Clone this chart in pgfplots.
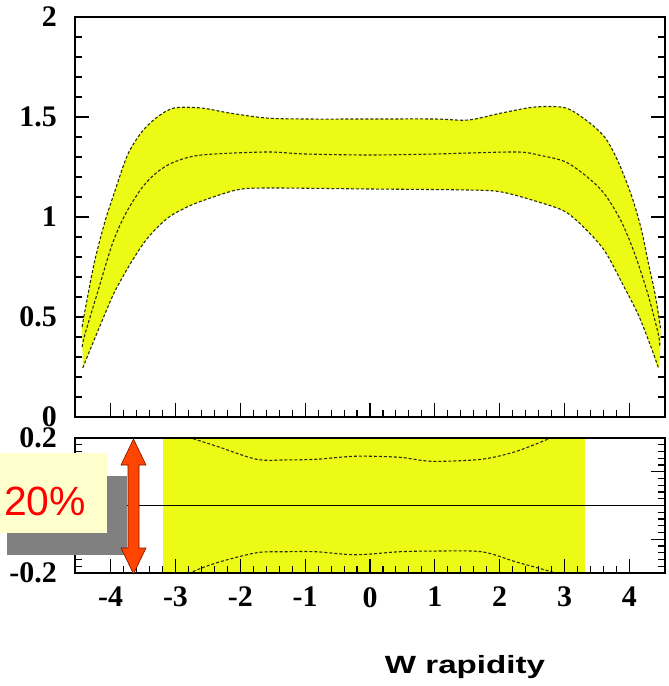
\documentclass[border=0pt]{standalone}
\usepackage{pgfplots}
\pgfplotsset{compat=1.18}
\usepackage{graphicx}
\usepackage{fontspec}
\setmainfont{Liberation Serif}
\newfontfamily\arialfont{Liberation Sans}
\definecolor{bandyellow}{RGB}{236,250,22}
\definecolor{curvecol}{RGB}{40,45,10}
\definecolor{creambox}{RGB}{255,255,206}
\definecolor{shadowgray}{RGB}{128,128,128}
\definecolor{arrowred}{RGB}{255,69,0}
\definecolor{arrowedge}{RGB}{120,20,0}
\begin{document}
\begin{tikzpicture}
\path[use as bounding box] (0bp,0bp) rectangle (669bp,-686bp);
\pgfplotsset{
  mystyle/.style={
    scale only axis, width=590bp,
    xmin=-4.55, xmax=4.55,
    axis line style={line width=1.6pt},
    /pgf/number format/assume math mode=true,
    ticklabel style={font=\fontsize{30}{30}\selectfont\bfseries},
    tick style={line width=1.1pt, black},
    major tick length=14bp, minor tick length=7bp,
    xtick={-4,-3,-2,-1,0,1,2,3,4},
    minor x tick num=4,
    xtick pos=bottom,
    clip=true,
  }
}
% top panel
\begin{axis}[mystyle, name=toppanel, at={(75bp,-17bp)}, anchor=north west,
  height=400bp, ymin=0, ymax=2,
  ytick={0,0.5,1,1.5,2}, yticklabels={0,0.5,1,1.5,2},
  minor y tick num=4,
  xticklabels={},
  yticklabel style={inner sep=0pt, xshift=-18bp},
]
\addplot[fill=bandyellow, draw=none, smooth] coordinates {
(-4.44,0.45) (-4.4,0.525) (-4.25,0.775) (-4.09,0.975) (-3.94,1.125) (-3.74,1.31)
(-3.52,1.425) (-3.28,1.50) (-3.02,1.545) (-2.6,1.545) (-2.17,1.52) (-1.6,1.495)
(-1,1.49) (0,1.49) (1,1.49) (1.52,1.485) (2.03,1.52) (2.55,1.55) (3.02,1.545)
(3.37,1.475) (3.63,1.395) (3.83,1.275) (4.03,1.11) (4.18,0.945) (4.29,0.775)
(4.4,0.61) (4.48,0.445)
(4.45,0.245) (4.34,0.345) (4.14,0.51) (3.88,0.675) (3.63,0.825) (3.37,0.925)
(3.02,1.025) (2.6,1.075) (2.03,1.125) (1.52,1.135) (0,1.14) (-1.6,1.145)
(-2.06,1.135) (-2.55,1.085) (-2.82,1.05) (-3.12,0.995) (-3.43,0.895)
(-3.68,0.775) (-3.94,0.625) (-4.14,0.475) (-4.35,0.31) (-4.43,0.245)
} -- cycle;
\addplot[curvecol, densely dashed, line width=1.1pt, smooth] coordinates {
(-4.44,0.45) (-4.4,0.525) (-4.25,0.775) (-4.09,0.975) (-3.94,1.125) (-3.74,1.31)
(-3.52,1.425) (-3.28,1.50) (-3.02,1.545) (-2.6,1.545) (-2.17,1.52) (-1.6,1.495)
(-1,1.49) (0,1.49) (1,1.49) (1.52,1.485) (2.03,1.52) (2.55,1.55) (3.02,1.545)
(3.37,1.475) (3.63,1.395) (3.83,1.275) (4.03,1.11) (4.18,0.945) (4.29,0.775)
(4.4,0.61) (4.48,0.445)
};
\addplot[curvecol, densely dashed, line width=1.1pt, smooth] coordinates {
(-4.44,0.35) (-4.4,0.41) (-4.2,0.625) (-3.98,0.86) (-3.78,1.01) (-3.52,1.145)
(-3.28,1.225) (-3.02,1.275) (-2.6,1.31) (-1.6,1.325) (-1,1.315) (0,1.31)
(1,1.315) (1.52,1.32) (2.29,1.325) (2.6,1.31) (3.02,1.275) (3.37,1.195)
(3.63,1.11) (3.88,0.975) (4.09,0.81) (4.29,0.61) (4.45,0.41) (4.47,0.35)
};
\addplot[curvecol, densely dashed, line width=1.1pt, smooth] coordinates {
(-4.43,0.245) (-4.35,0.31) (-4.14,0.475) (-3.94,0.625) (-3.68,0.775)
(-3.43,0.895) (-3.12,0.995) (-2.82,1.05) (-2.55,1.085) (-2.06,1.135)
(-1.6,1.145) (0,1.14) (1.52,1.135) (2.03,1.125) (2.6,1.075) (3.02,1.025)
(3.37,0.925) (3.63,0.825) (3.88,0.675) (4.14,0.51) (4.34,0.345) (4.45,0.245)
};
\end{axis}
% bottom panel
\begin{axis}[mystyle, name=botpanel, at={(75bp,-438bp)}, anchor=north west,
  height=135bp, ymin=-0.2, ymax=0.2,
  ytick={-0.2,-0.1,0,0.1,0.2}, yticklabels={-0.2,,0,,0.2},
  minor y tick num=4,
  xticklabels={-4,-3,-2,-1,0,1,2,3,4},
  xticklabel style={inner sep=0pt, yshift=-14bp},
  yticklabel style={inner sep=0pt, xshift=-18bp},
  axis on top,
]
\addplot[fill=bandyellow, draw=none] coordinates {
(-3.2,-0.25) (3.32,-0.25) (3.32,0.25) (-3.2,0.25)} -- cycle;
\addplot[curvecol, densely dashed, line width=1.1pt, smooth] coordinates {
(-3.0,0.225) (-2.83,0.205) (-2.37,0.176) (-1.75,0.137) (-1.3,0.135) (-0.83,0.137)
(-0.22,0.146) (0.45,0.143) (0.95,0.131) (1.72,0.137) (2.25,0.16) (2.75,0.197)
(2.9,0.21) (3.05,0.225)
};
\addplot[curvecol, densely dashed, line width=1.1pt, smooth] coordinates {
(-3.0,-0.225) (-2.78,-0.2) (-2.37,-0.17) (-1.75,-0.14) (-1.3,-0.137) (-0.83,-0.137)
(-0.22,-0.146) (0.45,-0.137) (1.0,-0.135) (1.72,-0.137) (2.25,-0.167) (2.86,-0.2)
(3.0,-0.215)
};
\addplot[black, line width=1.3pt] coordinates {(-4.55,0) (4.55,0)};
\end{axis}
% overlay annotation
\fill[shadowgray] (7bp,-476bp) rectangle (127bp,-555bp);
\fill[creambox] (0bp,-453bp) rectangle (107bp,-533bp);
\node[anchor=base west, inner sep=0pt, text=red, font=\arialfont\fontsize{41}{41}\selectfont] at (4bp,-515bp) {20\%};
\filldraw[fill=arrowred, draw=arrowedge, line width=0.6pt]
 (133.5bp,-439bp) -- (146bp,-465bp) -- (139bp,-465bp) -- (139bp,-548bp) -- (146bp,-548bp) -- (133.5bp,-574bp)
 -- (121bp,-548bp) -- (128bp,-548bp) -- (128bp,-465bp) -- (121bp,-465bp) -- cycle;
\node[anchor=base, inner sep=0pt, font=\arialfont\bfseries\fontsize{25}{25}\selectfont] at (465bp,-673bp) {\scalebox{1.33}[1]{W rapidity}};
\end{tikzpicture}
\end{document}
